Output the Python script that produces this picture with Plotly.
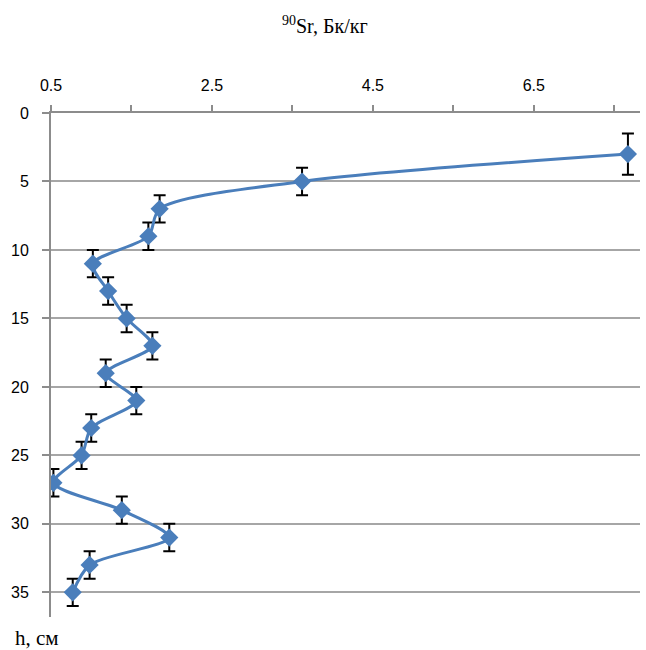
import plotly.graph_objects as go

# Data
depth_cm = [3, 5, 7, 9, 11, 13, 15, 17, 19, 21, 23, 25, 27, 29, 31, 33, 35]
sr90 = [7.67, 3.62, 1.85, 1.71, 1.02, 1.21, 1.44, 1.76, 1.18, 1.56, 1.00, 0.88, 0.53, 1.38, 1.97, 0.98, 0.77]
depth_err = [1.5, 1, 1, 1, 1, 1, 1, 1, 1, 1, 1, 1, 1, 1, 1, 1, 1]

x_tickvals = [0.5, 2.5, 4.5, 6.5]
x_ticktext = ["0.5", "2.5", "4.5", "6.5"]
x_minorvals = [0.5, 1.5, 2.5, 3.5, 4.5, 5.5, 6.5, 7.5]
y_tickvals = [0, 5, 10, 15, 20, 25, 30, 35]

AXIS_GRAY = "#8C8C8C"

fig = go.Figure()
fig.add_trace(go.Scatter(
    x=sr90, y=depth_cm,
    mode="lines+markers",
    line=dict(color="#4A7EBB", width=3, shape="spline", smoothing=0.8),
    marker=dict(symbol="diamond", size=14, color="#4A7EBB"),
    error_y=dict(type="data", array=depth_err, visible=True,
                 color="black", thickness=2, width=6),
    showlegend=False,
))

fig.update_layout(
    width=646, height=650,
    margin=dict(l=51, r=6, t=113, b=33),
    paper_bgcolor="white", plot_bgcolor="white",
    font=dict(family="Liberation Sans", size=16, color="black"),
    xaxis=dict(
        side="top", range=[0.5, 7.82],
        tickvals=x_tickvals, ticktext=x_ticktext,
        ticks="outside", ticklen=6, tickcolor=AXIS_GRAY, tickwidth=2,
        minor=dict(tickvals=x_minorvals, ticks="outside", ticklen=6,
                   tickcolor=AXIS_GRAY, tickwidth=2, showgrid=False),
        ticklabelstandoff=8,
        showline=True, linecolor=AXIS_GRAY, linewidth=2,
        showgrid=False, zeroline=False,
        tickfont=dict(family="Liberation Sans", size=16),
    ),
    yaxis=dict(
        range=[36.8, 0],
        tickvals=y_tickvals,
        ticks="outside", ticklen=7, tickcolor=AXIS_GRAY, tickwidth=2,
        ticklabelstandoff=10,
        showline=True, linecolor=AXIS_GRAY, linewidth=2,
        showgrid=True, gridcolor="#A6A6A6", gridwidth=2,
        zeroline=False,
        tickfont=dict(family="Liberation Sans", size=16),
    ),
    annotations=[
        dict(text="<sup>90</sup>Sr, Бк/кг", xref="paper", yref="paper",
             x=0.465, y=1.0, yshift=88, showarrow=False,
             font=dict(family="Liberation Serif", size=20, color="black"),
             xanchor="center", yanchor="middle"),
        dict(text="h, см", xref="paper", yref="paper",
             x=0, y=0, xshift=-38, yshift=-21, showarrow=False,
             font=dict(family="Liberation Serif", size=21, color="black"),
             xanchor="left", yanchor="middle"),
    ],
)

fig.write_html("out.html", config={"displayModeBar": False},
               post_script="document.body.style.margin='0';")
